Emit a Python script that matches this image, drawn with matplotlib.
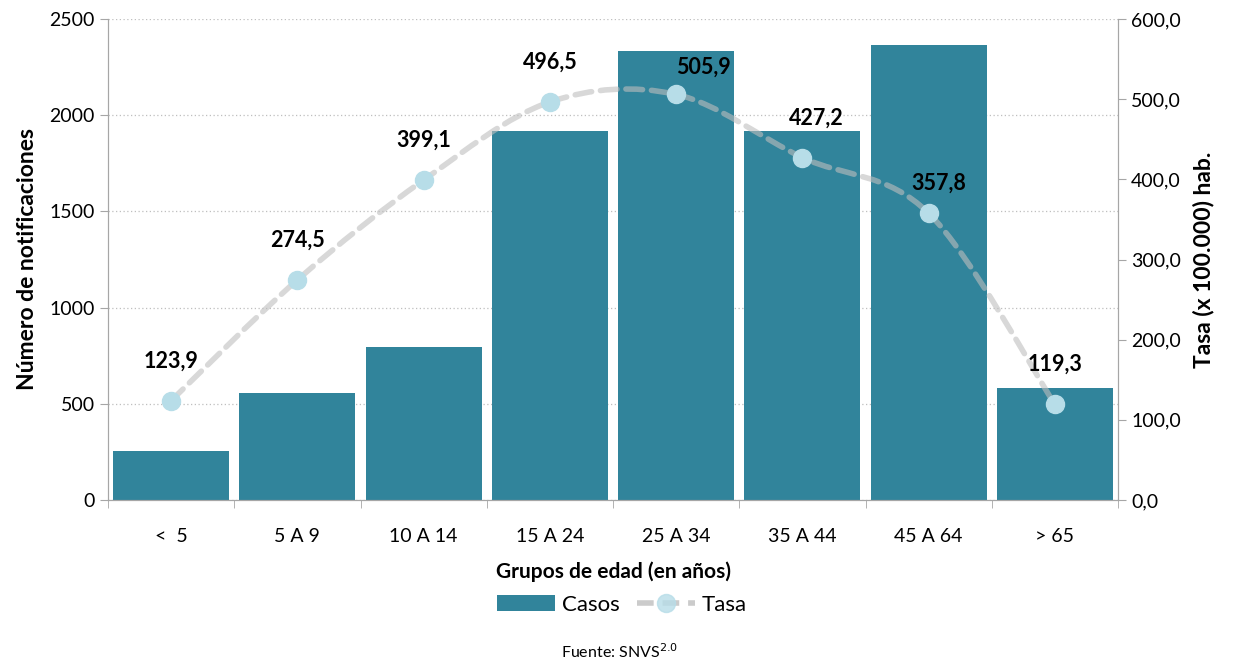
import matplotlib
matplotlib.use("Agg")
import matplotlib.pyplot as plt
from matplotlib.path import Path
from matplotlib.patches import PathPatch, Patch
from matplotlib.lines import Line2D
import numpy as np

categories = ["<  5", "5 A 9", "10 A 14", "15 A 24", "25 A 34", "35 A 44", "45 A 64", "> 65"]
casos = [255, 556, 795, 1918, 2334, 1918, 2365, 582]
tasa = [123.9, 274.5, 399.1, 496.5, 505.9, 427.2, 357.8, 119.3]
tasa_labels = ["123,9", "274,5", "399,1", "496,5", "505,9", "427,2", "357,8", "119,3"]

plt.rcParams['font.family'] = ['Lato', 'DejaVu Sans']

fig = plt.figure(figsize=(12.35, 6.6), dpi=100)
ax = fig.add_axes([108/1235, 1-500/660, (1118-108)/1235, (500-19)/660])
ax2 = ax.twinx()

x = np.arange(len(categories))
bar_color = '#31849B'
ax.bar(x, casos, width=0.92, color=bar_color, zorder=2)
ax.set_xlim(-0.5, len(categories)-0.5)
ax.set_ylim(0, 2500)
ax.set_yticks(range(0, 2501, 500))
ax.yaxis.grid(True, linestyle=(0, (1, 2)), color='#BFBFBF', linewidth=0.9, zorder=0)
ax.set_axisbelow(True)

ax2.set_ylim(0, 600)
ax2.set_yticks(range(0, 601, 100))
ax2.set_yticklabels([f"{v},0" for v in range(0, 601, 100)])

line_color = '#BEBEBE'
# smoothed line (Catmull-Rom style Bezier through data points)
pts = np.column_stack([x, tasa]).astype(float)
verts = [tuple(pts[0])]
codes = [Path.MOVETO]
n = len(pts)
for i in range(n-1):
    p0 = pts[i-1] if i > 0 else pts[i]
    p1 = pts[i]
    p2 = pts[i+1]
    p3 = pts[i+2] if i+2 < n else pts[i+1]
    c1 = p1 + (p2 - p0) / 6.0
    c2 = p2 - (p3 - p1) / 6.0
    verts += [tuple(c1), tuple(c2), tuple(p2)]
    codes += [Path.CURVE4]*3
path = Path(verts, codes)
ax2.add_patch(PathPatch(path, facecolor='none', edgecolor=line_color, alpha=0.6, linewidth=4,
                        linestyle=(0, (3, 1.6)), capstyle='round', zorder=3))
ax2.plot(x, tasa, linestyle='none', marker='o', markersize=13,
         markerfacecolor='#B7DDE8', markeredgecolor='#B7DDE8', markeredgewidth=1.0, zorder=4)

offsets = [(0, 21), (0, 21), (0, 21), (0, 21), (20, 12), (10, 21), (7, 14), (0, 21)]
for xi, yi, lab, off in zip(x, tasa, tasa_labels, offsets):
    ax2.annotate(lab, (xi, yi), xytext=off, textcoords='offset points',
                 ha='center', va='bottom', fontsize=15.5, fontweight='bold', color='black', zorder=5)

for a in (ax, ax2):
    for s in a.spines.values():
        s.set_color('#A6A6A6')
    a.spines['top'].set_visible(False)
    a.tick_params(axis='y', colors='#A6A6A6', labelcolor='black', labelsize=14, length=6, direction='out')

ax.set_xticks(x)
ax.set_xticklabels(categories, fontsize=14)
ax.set_xticks(np.arange(-0.5, len(categories), 1), minor=True)
ax.tick_params(axis='x', which='major', length=0, pad=20)
ax.tick_params(axis='x', which='minor', length=6, color='#A6A6A6', direction='out')

ax.set_ylabel("Número de notificaciones", fontsize=16.5, fontweight='bold', labelpad=8)
ax2.set_ylabel("Tasa (x 100.000) hab.", fontsize=16.5, fontweight='bold', labelpad=8)
ax.set_xlabel("Grupos de edad (en años)", fontsize=15, fontweight='bold', labelpad=12)

handles = [Patch(facecolor=bar_color, edgecolor='none'),
           Line2D([0], [0], color=line_color, alpha=0.8, linewidth=4, linestyle=(0, (3, 1.6)),
                  marker='o', markersize=13, markerfacecolor='#B7DDE8', markeredgecolor='#B7DDE8')]
fig.legend(handles, ["Casos", "Tasa"], loc='center', bbox_to_anchor=(622/1235, 1-605/660),
           ncol=2, frameon=False, fontsize=16, handlelength=2.6, columnspacing=0.8, handletextpad=0.3)

fig.text(620/1235, 1-652/660, r"Fuente: SNVS$^{2.0}$", ha='center', va='center', fontsize=11.5)

fig.savefig("out.png", dpi=100)
